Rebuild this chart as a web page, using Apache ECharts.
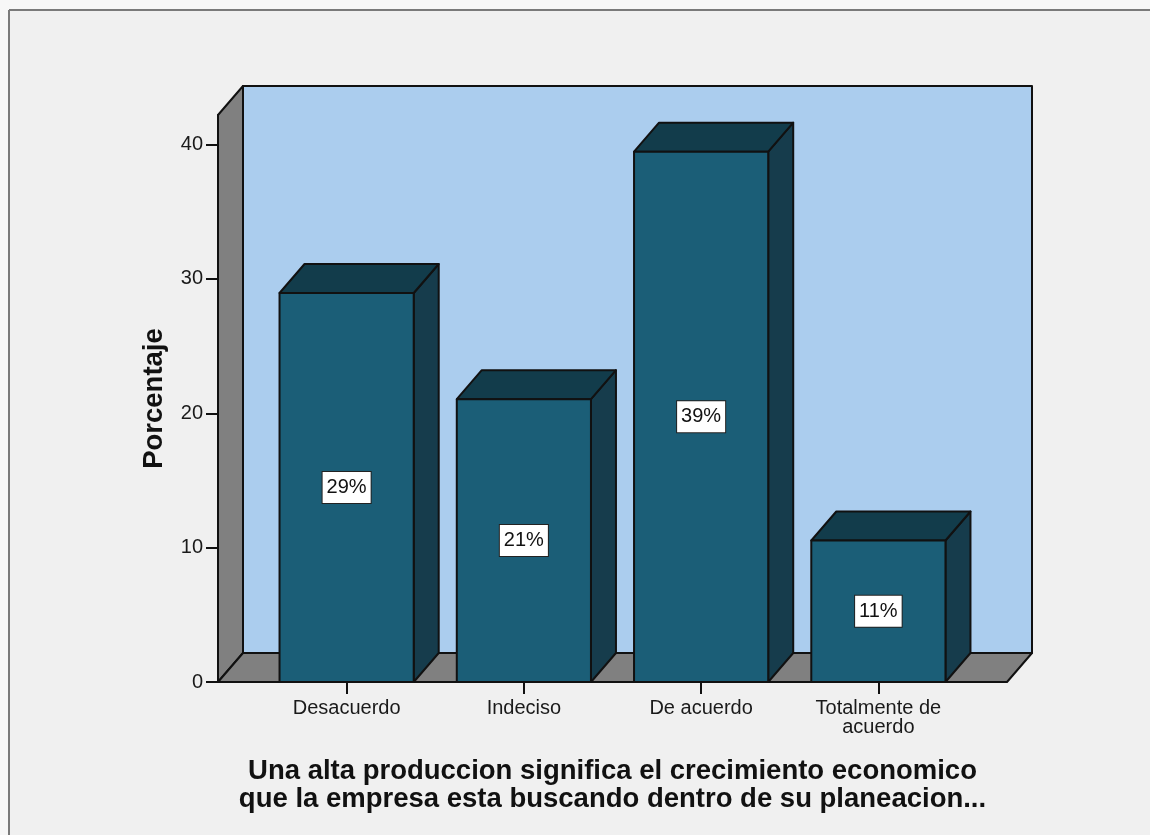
<!DOCTYPE html>
<html>
<head>
<meta charset="utf-8">
<script src="https://cdn.jsdelivr.net/npm/echarts@6/dist/echarts.min.js"></script>
<style>
  html, body { margin: 0; padding: 0; background: #f7f7f7; }
  #chart { width: 1150px; height: 835px; }
</style>
</head>
<body>
<div id="chart"></div>
<script>
// ---- data ----
const categories = ['Desacuerdo', 'Indeciso', 'De acuerdo', 'Totalmente de\nacuerdo'];
const percentages = [28.95, 21.05, 39.47, 10.53];
const yTicks = [0, 10, 20, 30, 40];
const yAxisTitle = 'Porcentaje';
const xAxisTitle = 'Una alta produccion significa el crecimiento economico\nque la empresa esta buscando dentro de su planeacion...';

// ---- styling constants ----
const DEPTH_X = 25, DEPTH_Y = -29;   // 3D depth offset
const WALL_EXT = 40;                 // floor extends beyond first/last band
const BAR_RATIO = 0.757;
const C = {
  bg: '#f0f0f0', wall: '#abcdee', side: '#808080', edge: '#111111',
  front: '#1b5e77', top: '#123c4b', right: '#163c4c'
};

const chart = echarts.init(document.getElementById('chart'));

function wallsRender(params, api) {
  const cs = params.coordSys;
  const y0 = api.coord([0, 0])[1];
  const yTop = cs.y;
  const xl = cs.x - WALL_EXT, xr = cs.x + cs.width + WALL_EXT;
  const dx = DEPTH_X, dy = DEPTH_Y;
  const ls = { stroke: C.edge, lineWidth: 2, lineJoin: 'round' };
  return {
    type: 'group',
    children: [
      { type: 'polygon', shape: { points: [[xl + dx, yTop + dy], [xr + dx, yTop + dy], [xr + dx, y0 + dy], [xl + dx, y0 + dy]] },
        style: Object.assign({ fill: C.wall }, ls) },
      { type: 'polygon', shape: { points: [[xl, y0], [xl, yTop], [xl + dx, yTop + dy], [xl + dx, y0 + dy]] },
        style: Object.assign({ fill: C.side }, ls) },
      { type: 'polygon', shape: { points: [[xl, y0], [xr, y0], [xr + dx, y0 + dy], [xl + dx, y0 + dy]] },
        style: Object.assign({ fill: C.side }, ls) }
    ]
  };
}

function barRender(params, api) {
  const idx = api.value(0), val = api.value(1);
  const p = api.coord([idx, val]);
  const p0 = api.coord([idx, 0]);
  const w = api.size([1, 0])[0] * BAR_RATIO;
  const x0 = p[0] - w / 2, x1 = p[0] + w / 2, yt = p[1], yb = p0[1];
  const dx = DEPTH_X, dy = DEPTH_Y;
  const ls = { stroke: C.edge, lineWidth: 2, lineJoin: 'round' };
  return {
    type: 'group',
    children: [
      { type: 'polygon', shape: { points: [[x1, yt], [x1 + dx, yt + dy], [x1 + dx, yb + dy], [x1, yb]] },
        style: Object.assign({ fill: C.right }, ls) },
      { type: 'polygon', shape: { points: [[x0, yt], [x1, yt], [x1 + dx, yt + dy], [x0 + dx, yt + dy]] },
        style: Object.assign({ fill: C.top }, ls) },
      { type: 'rect', shape: { x: x0, y: yt, width: w, height: yb - yt },
        style: Object.assign({ fill: C.front }, ls) },
      { type: 'text', x: p[0], y: (yt + yb) / 2,
        style: { text: Math.round(val) + '%', align: 'center', verticalAlign: 'middle',
          fontFamily: 'Liberation Sans, Arial, sans-serif', fontSize: 20, fill: '#111',
          backgroundColor: '#ffffff', borderColor: '#222', borderWidth: 1, padding: [6, 4, 5, 4] } }
    ]
  };
}

const option = {
  backgroundColor: C.bg,
  animation: false,
  textStyle: { fontFamily: 'Liberation Sans, Arial, sans-serif' },
  graphic: [
    { type: 'rect', left: 0, top: 0, shape: { width: 1150, height: 10 }, style: { fill: '#f7f7f7' }, silent: true },
    { type: 'rect', left: 0, top: 0, shape: { width: 9, height: 835 }, style: { fill: '#f7f7f7' }, silent: true },
    { type: 'line', shape: { x1: 9, y1: 10, x2: 1150, y2: 10 }, style: { stroke: '#7a7a7a', lineWidth: 2 } },
    { type: 'line', shape: { x1: 9, y1: 10, x2: 9, y2: 835 }, style: { stroke: '#7a7a7a', lineWidth: 2 } }
  ],
  grid: { left: 258, right: 183, top: 115, bottom: 153 },
  xAxis: {
    type: 'category',
    data: categories,
    axisLine: { show: false },
    axisTick: { show: true, alignWithLabel: true, length: 12, lineStyle: { color: '#111', width: 2 } },
    axisLabel: { fontSize: 20, color: '#1a1a1a', margin: 17, lineHeight: 19, interval: 0 },
    name: xAxisTitle,
    nameLocation: 'middle',
    nameGap: 75,
    nameTextStyle: { fontSize: 27.5, fontWeight: 'bold', color: '#111', lineHeight: 28 }
  },
  yAxis: {
    type: 'value',
    min: 0, max: 42.2,
    offset: WALL_EXT,
    axisLine: { show: true, lineStyle: { color: '#111', width: 2 } },
    axisTick: { show: true, length: 12, customValues: yTicks, lineStyle: { color: '#111', width: 2 } },
    axisLabel: { fontSize: 20, color: '#1a1a1a', margin: 15, customValues: yTicks },
    splitLine: { show: false },
    name: yAxisTitle,
    nameLocation: 'middle',
    nameGap: 50,
    nameTextStyle: { fontSize: 27.5, fontWeight: 'bold', color: '#111' }
  },
  series: [
    { type: 'custom', renderItem: wallsRender, data: [[0, 0]], z: 1, silent: true, clip: false },
    { type: 'custom', renderItem: barRender, data: percentages.map((v, i) => [i, v]), z: 2, clip: false }
  ]
};
chart.setOption(option);
</script>
</body>
</html>
